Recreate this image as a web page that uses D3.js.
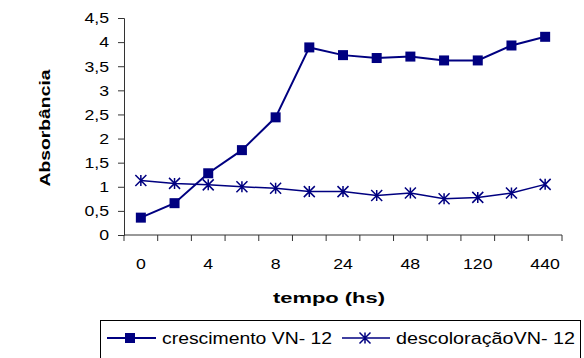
<!DOCTYPE html>
<html>
<head>
<meta charset="utf-8">
<script src="https://cdn.jsdelivr.net/npm/d3@7"></script>
<style>
  body { margin: 0; background: #fff; }
  text { font-family: "Liberation Sans", Arial, sans-serif; }
</style>
</head>
<body>
<script>
// time points (hours) - only every other label is shown on the axis
let categories = ['0', '2', '4', '6', '8', '12', '24', '36', '48', '72', '120', '240', '440'];
let crescimento = [0.36, 0.66, 1.28, 1.76, 2.44, 3.89, 3.73, 3.67, 3.70, 3.62, 3.62, 3.93, 4.11];
let descoloracao = [1.13, 1.07, 1.04, 1.00, 0.97, 0.90, 0.90, 0.82, 0.87, 0.75, 0.78, 0.87, 1.05];
let yTicks = [0, 0.5, 1, 1.5, 2, 2.5, 3, 3.5, 4, 4.5];
let seriesNames = ['crescimento VN- 12', 'descoloraçãoVN- 12'];

let width = 584;
let height = 358;
let color = '#000080';

let svg = d3.select(document.body).append('svg')
  .attr('width', width)
  .attr('height', height);

// the original text is rendered a bit wider than Arial, so stretch it
let stretch = (sel, factor) => {
  sel.each(function() {
    let len = this.getComputedTextLength();
    d3.select(this)
      .attr('textLength', len * factor)
      .attr('lengthAdjust', 'spacingAndGlyphs');
  });
};

let x = d3.scaleBand()
  .domain(categories)
  .range([124, 562])
  .padding(0);

let y = d3.scaleLinear()
  .domain([0, 4.5])
  .range([235, 18]);

let fmt = (d) => String(d).replace('.', ',');

// y axis
let yAxis = svg.append('g')
  .attr('transform', 'translate(124,0)')
  .call(d3.axisLeft(y).tickValues(yTicks).tickSize(6).tickPadding(9).tickFormat(fmt));
yAxis.select('.domain').attr('stroke', '#333');
yAxis.selectAll('line').attr('stroke', '#333');
yAxis.selectAll('text')
  .style('font-size', '15px')
  .attr('fill', '#000')
  .call(stretch, 1.18);

// x axis: ticks at the band edges, labels on every other band
let xAxis = svg.append('g')
  .attr('transform', 'translate(0,235)');
xAxis.append('line')
  .attr('x1', 124).attr('x2', 562)
  .attr('stroke', '#333');
xAxis.selectAll('line.tick')
  .data(categories.concat(['end']))
  .join('line')
    .attr('class', 'tick')
    .attr('x1', (d, i) => 124 + i * x.bandwidth())
    .attr('x2', (d, i) => 124 + i * x.bandwidth())
    .attr('y1', 0)
    .attr('y2', 6)
    .attr('stroke', '#333');
xAxis.selectAll('text')
  .data(categories.filter((d, i) => i % 2 === 0))
  .join('text')
    .attr('x', d => x(d) + x.bandwidth() / 2)
    .attr('y', 34)
    .attr('text-anchor', 'middle')
    .style('font-size', '15px')
    .text(d => d)
    .call(stretch, 1.18);

// axis titles
svg.append('text')
  .attr('x', 329)
  .attr('y', 303)
  .attr('text-anchor', 'middle')
  .attr('textLength', 112)
  .attr('lengthAdjust', 'spacingAndGlyphs')
  .style('font-size', '15px')
  .style('font-weight', 'bold')
  .text('tempo (hs)');

svg.append('text')
  .attr('transform', 'translate(50,128) rotate(-90)')
  .attr('text-anchor', 'middle')
  .attr('textLength', 117)
  .attr('lengthAdjust', 'spacingAndGlyphs')
  .style('font-size', '15px')
  .style('font-weight', 'bold')
  .text('Absorbância');

let line = d3.line()
  .x((d, i) => x(categories[i]) + x.bandwidth() / 2)
  .y(d => y(d));

let starPath = (s) => `M0,${-s}V${s}M${-s},${-s}L${s},${s}M${-s},${s}L${s},${-s}`;

// crescimento
svg.append('path')
  .datum(crescimento)
  .attr('d', line)
  .attr('fill', 'none')
  .attr('stroke', color)
  .attr('stroke-width', 2);
svg.selectAll('rect.cresc')
  .data(crescimento)
  .join('rect')
    .attr('class', 'cresc')
    .attr('x', (d, i) => x(categories[i]) + x.bandwidth() / 2 - 5)
    .attr('y', d => y(d) - 5)
    .attr('width', 10)
    .attr('height', 10)
    .attr('fill', color);

// descoloracao
svg.append('path')
  .datum(descoloracao)
  .attr('d', line)
  .attr('fill', 'none')
  .attr('stroke', color)
  .attr('stroke-width', 1.5);
svg.selectAll('path.star')
  .data(descoloracao)
  .join('path')
    .attr('class', 'star')
    .attr('transform', (d, i) => `translate(${x(categories[i]) + x.bandwidth() / 2},${y(d)})`)
    .attr('d', starPath(5.5))
    .attr('fill', 'none')
    .attr('stroke', color)
    .attr('stroke-width', 1.5);

// legend
let legend = svg.append('g');
legend.append('rect')
  .attr('x', 100.5)
  .attr('y', 320.5)
  .attr('width', 480)
  .attr('height', 50)
  .attr('fill', 'none')
  .attr('stroke', '#000')
  .attr('stroke-width', 1);

legend.append('line')
  .attr('x1', 107).attr('x2', 156).attr('y1', 338).attr('y2', 338)
  .attr('stroke', color).attr('stroke-width', 2);
legend.append('rect')
  .attr('x', 125).attr('y', 333).attr('width', 10).attr('height', 10)
  .attr('fill', color);
legend.append('text')
  .attr('x', 162).attr('y', 344)
  .attr('textLength', 170)
  .attr('lengthAdjust', 'spacingAndGlyphs')
  .style('font-size', '16px')
  .text(seriesNames[0]);

legend.append('line')
  .attr('x1', 342).attr('x2', 390).attr('y1', 338).attr('y2', 338)
  .attr('stroke', color).attr('stroke-width', 1.5);
legend.append('path')
  .attr('transform', 'translate(365,338)')
  .attr('d', starPath(5.5))
  .attr('fill', 'none')
  .attr('stroke', color)
  .attr('stroke-width', 1.5);
legend.append('text')
  .attr('x', 396).attr('y', 344)
  .attr('textLength', 179)
  .attr('lengthAdjust', 'spacingAndGlyphs')
  .style('font-size', '16px')
  .text(seriesNames[1]);
</script>
</body>
</html>
